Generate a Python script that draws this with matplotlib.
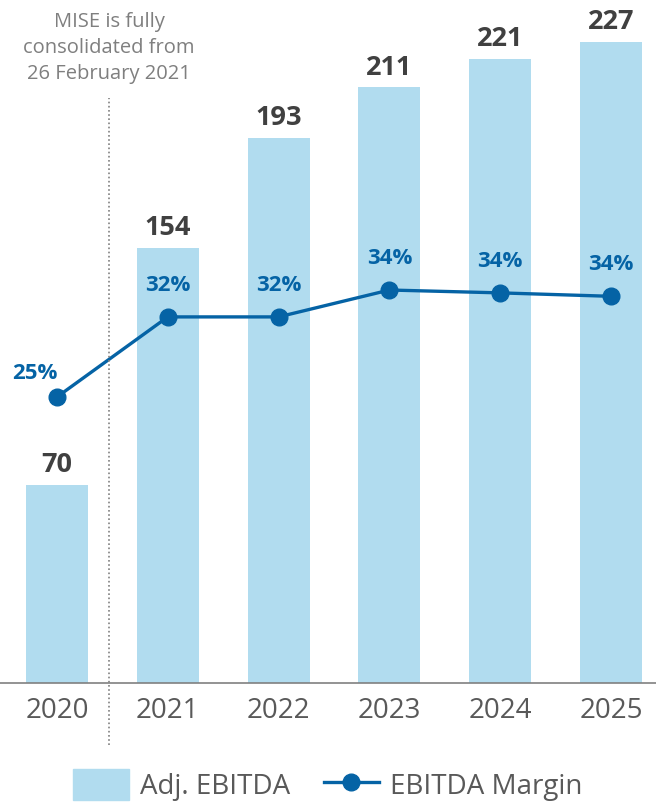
import matplotlib.pyplot as plt
from matplotlib.patches import Patch
from matplotlib.lines import Line2D

plt.rcParams['font.family'] = ['Open Sans', 'DejaVu Sans']

years = ['2020', '2021', '2022', '2023', '2024', '2025']
ebitda = [70, 154, 193, 211, 221, 227]
margin = [25.0, 32.0, 32.0, 34.35, 34.1, 33.8]
margin_labels = ['25%', '32%', '32%', '34%', '34%', '34%']
note = 'MISE is fully\nconsolidated from\n26 February 2021'

bar_col = '#B1DCEF'
line_col = '#0563A5'
grey = '#595959'

fig = plt.figure(figsize=(6.56, 8.05), dpi=100)
ax = fig.add_axes([0, 122 / 805, 1, 683 / 805])
x = list(range(len(years)))
ax.bar(x, ebitda, width=0.56, color=bar_col, zorder=1)
ax.set_xlim(-0.514, 5.406)
ax.set_ylim(0, 242)
for s in ['top', 'right', 'left']:
    ax.spines[s].set_visible(False)
ax.spines['bottom'].set_color('#808080')
ax.spines['bottom'].set_linewidth(1.2)
ax.set_yticks([])
ax.set_xticks(x)
ax.set_xticklabels(years, fontsize=20, color=grey)
ax.tick_params(axis='x', length=0, pad=10)

for xi, v in zip(x, ebitda):
    ax.annotate(str(v), (xi, v), xytext=(0, 5), textcoords='offset points',
                ha='center', va='bottom', fontsize=19.5, fontweight='bold', color='#404040')

ax2 = ax.twinx()
ax2.set_ylim(0, 59.7)
ax2.axis('off')
ax2.plot(x, margin, color=line_col, lw=2.4, marker='o', markersize=12, zorder=3)
for i, (xi, v, t) in enumerate(zip(x, margin, margin_labels)):
    off = (-16, 9) if i == 0 else (0, 15)
    ax2.annotate(t, (xi, v), xytext=off, textcoords='offset points',
                 ha='center', va='bottom', fontsize=16, fontweight='bold', color=line_col)

# dotted separator
fig.add_artist(Line2D([109 / 656, 109 / 656], [1 - 745 / 805, 1 - 98 / 805],
                      color='#808080', lw=1.2, ls=(0, (1, 1.5))))
fig.text(109 / 656, 1 - 48 / 805, note, ha='center', va='center', fontsize=14.5,
         color='#7F7F7F', linespacing=1.4)

handles = [Patch(color=bar_col, label='Adj. EBITDA'),
           Line2D([0], [0], color=line_col, lw=2.4, marker='o', markersize=12,
                  label='EBITDA Margin')]
fig.legend(handles=handles, loc='center', bbox_to_anchor=(0.5, 1 - 785 / 805), ncol=2,
           frameon=False, fontsize=20, labelcolor=grey, handlelength=2.0,
           handleheight=1.3, columnspacing=1.2, handletextpad=0.4)

fig.savefig('out.png', dpi=100)
